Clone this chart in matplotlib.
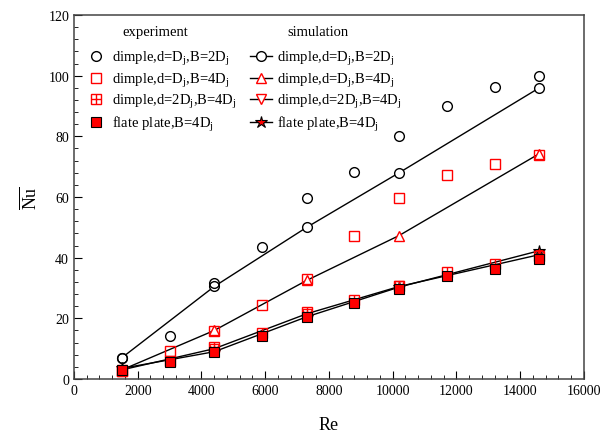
import numpy as np
import matplotlib.pyplot as plt
from matplotlib.legend_handler import HandlerTuple
from matplotlib.ticker import MultipleLocator

plt.rcParams['font.family'] = 'Liberation Serif'
plt.rcParams['mathtext.fontset'] = 'custom'
plt.rcParams['mathtext.rm'] = 'Liberation Serif'
plt.rcParams['mathtext.it'] = 'Liberation Serif:italic'

# experiment data
re_exp = [1500, 3000, 4400, 5900, 7300, 8800, 10200, 11700, 13200, 14600]
exp_d1_b2 = [7.0, 14.2, 31.6, 43.5, 59.7, 68.2, 80.0, 90.0, 96.3, 99.9]
exp_d1_b4 = [2.5, 9.2, 15.8, 24.3, 33.0, 47.0, 59.7, 67.2, 71.0, 74.0]
exp_d2_b4 = [2.5, 5.8, 10.5, 15.3, 22.0, 26.0, 30.5, 35.2, 38.0, 40.5]
exp_flat = [3.0, 5.5, 9.0, 14.3, 20.3, 25.0, 29.7, 33.8, 36.3, 39.5]

# simulation data
re_sim = [1500, 4400, 7300, 10200, 14600]
sim_d1_b2 = [7.0, 30.5, 50.0, 68.0, 96.0]
sim_d1_b4 = [3.0, 16.0, 32.5, 47.3, 74.3]
sim_d2_b4 = [3.0, 10.0, 21.5, 30.5, 41.0]
sim_flat = [3.5, 9.0, 20.5, 30.3, 42.3]

fig = plt.figure(figsize=(6.01, 4.35), dpi=100)
ax = fig.add_axes([0.1231, 0.1264, 0.8486, 0.8368])

ms = 7
red = '#ff0000'

# simulation lines
s1, = ax.plot(re_sim, sim_d1_b2, '-o', color='k', lw=1, mfc='white', mec='k', ms=ms, mew=1)
s2, = ax.plot(re_sim, sim_d1_b4, '-^', color='k', lw=1, mfc='white', mec=red, ms=ms, mew=1)
s3, = ax.plot(re_sim, sim_d2_b4, '-v', color='k', lw=1, mfc='white', mec=red, ms=ms, mew=1)
s4, = ax.plot(re_sim, sim_flat, '-*', color='k', lw=1, mfc=red, mec='k', ms=ms + 2, mew=0.8)

# experiment markers
e1, = ax.plot(re_exp, exp_d1_b2, 'o', ls='none', mfc='none', mec='k', ms=ms, mew=1)
e2, = ax.plot(re_exp, exp_d1_b4, 's', ls='none', mfc='none', mec=red, ms=ms, mew=1)
e3a, = ax.plot(re_exp, exp_d2_b4, 's', ls='none', mfc='none', mec=red, ms=ms, mew=1)
e3b, = ax.plot(re_exp, exp_d2_b4, '+', ls='none', mec=red, ms=ms, mew=1)
e4, = ax.plot(re_exp, exp_flat, 's', ls='none', mfc=red, mec='k', ms=ms, mew=0.8)

ax.set_xlim(0, 16000)
ax.set_ylim(0, 120)
ax.xaxis.set_major_locator(MultipleLocator(2000))
ax.xaxis.set_minor_locator(MultipleLocator(400))
ax.yaxis.set_major_locator(MultipleLocator(20))
ax.yaxis.set_minor_locator(MultipleLocator(4))
ax.tick_params(which='both', direction='in', top=False, right=False, labelsize=10)
ax.tick_params(which='major', length=6)
ax.tick_params(which='minor', length=3)
for sp in ax.spines.values():
    sp.set_color('#444444')
    sp.set_linewidth(1.1)

ax.set_xlabel('Re', fontsize=13, labelpad=14)
ax.set_ylabel(r'$\overline{\mathrm{Nu}}$', fontsize=13, labelpad=6)

lab_exp = [r'dimple,d=D$_\mathrm{j}$,B=2D$_\mathrm{j}$',
           r'dimple,d=D$_\mathrm{j}$,B=4D$_\mathrm{j}$',
           r'dimple,d=2D$_\mathrm{j}$,B=4D$_\mathrm{j}$',
           r'flate plate,B=4D$_\mathrm{j}$']

# column headers
ax.text(0.159, 0.956, 'experiment', transform=ax.transAxes, ha='center', va='center', fontsize=10.5)
ax.text(0.479, 0.956, 'simulation', transform=ax.transAxes, ha='center', va='center', fontsize=10.5)

leg1 = ax.legend([e1, e2, (e3a, e3b), e4], lab_exp,
                 handler_map={tuple: HandlerTuple(ndivide=1, pad=0)},
                 loc='upper left', bbox_to_anchor=(0.0, 0.942), frameon=False,
                 fontsize=10.5, handlelength=1.2,
                 handletextpad=0.5, labelspacing=0.24)
ax.add_artist(leg1)
ax.legend([s1, s2, s3, s4], lab_exp,
          loc='upper left', bbox_to_anchor=(0.32, 0.942), frameon=False,
          fontsize=10.5, handlelength=1.5,
          handletextpad=0.3, labelspacing=0.24)

fig.savefig('out.png', dpi=100)
